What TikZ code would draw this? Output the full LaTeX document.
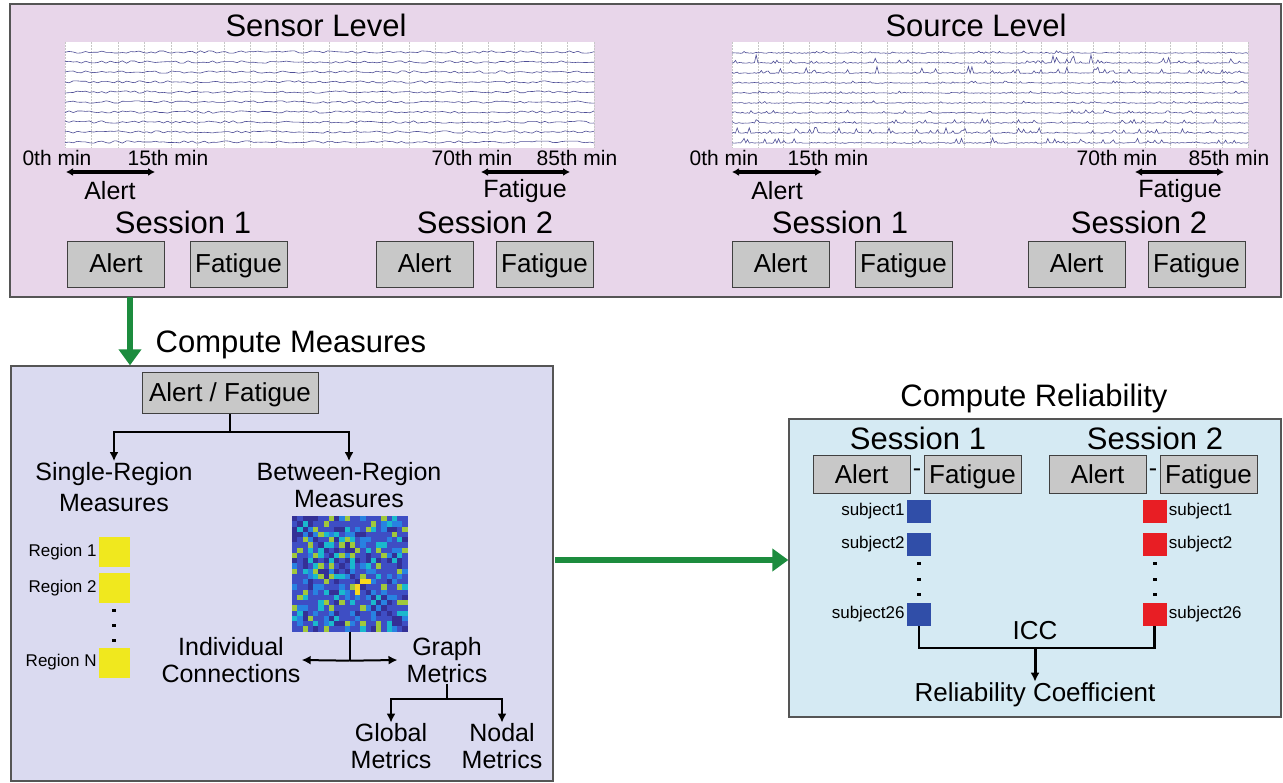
\documentclass[tikz,border=0pt]{standalone}
\usepackage{fontspec}
\setmainfont{Liberation Sans}
\usepackage{tikz}
\usetikzlibrary{positioning,arrows.meta}
\definecolor{topbg}{RGB}{232,214,234}
\definecolor{leftbg}{RGB}{218,218,240}
\definecolor{rightbg}{RGB}{213,234,243}
\definecolor{boxgray}{RGB}{200,200,200}
\definecolor{framegray}{RGB}{85,85,85}
\definecolor{flowgreen}{RGB}{28,140,62}
\definecolor{tracecol}{RGB}{78,78,150}
\definecolor{regyellow}{RGB}{240,232,30}
\definecolor{s1blue}{RGB}{48,78,168}
\definecolor{s2red}{RGB}{232,30,36}
\definecolor{pa}{RGB}{52,48,150}
\definecolor{pb}{RGB}{62,78,196}
\definecolor{pc}{RGB}{40,130,225}
\definecolor{pd}{RGB}{26,185,205}
\definecolor{pe}{RGB}{160,200,60}
\definecolor{pf}{RGB}{250,215,30}

\begin{document}
\begin{tikzpicture}[x=1pt, y=-1pt,
		panel/.style={draw=framegray, line width=1.3pt, inner sep=0pt},
		heading/.style={font=\fontsize{31}{34}\selectfont, inner sep=1pt},
		subhead/.style={font=\fontsize{25}{27}\selectfont, inner sep=1pt, align=center},
		minute/.style={font=\fontsize{21}{24}\selectfont, inner sep=1pt},
		cond/.style={draw=black!75, fill=boxgray, line width=1pt, minimum width=97pt,
		             minimum height=46pt, inner sep=0pt, text height=19pt, text depth=2pt,
		             font=\fontsize{26}{28}\selectfont},
		reglabel/.style={font=\fontsize{17}{20}\selectfont, inner sep=1pt},
		span/.style={line width=3.5pt, {Latex[length=7pt,width=8pt]}-{Latex[length=7pt,width=8pt]}},
		flow/.style={draw=flowgreen, line width=6pt, -{Triangle[length=16pt,width=22pt]}},
		branch/.style={line width=2pt, -{Latex[length=9pt,width=9pt]}},
		gridline/.style={draw=black!22, line width=0.4pt, dash pattern=on 2pt off 1pt},
		trace/.style={draw=tracecol, line width=0.6pt},
		hot/.style={fill=regyellow, minimum width=31pt, minimum height=30pt, inner sep=0pt},
		score/.style={minimum width=24pt, minimum height=23pt, inner sep=0pt}]
	\useasboundingbox (0,0) rectangle (1283,783);

	% recordings: sensor and source level
	\node[panel, fill=topbg, minimum width=1271pt, minimum height=293pt] (levels) at (645.5,150.5) {};
	\node[heading] (sensor) at (316,25) {Sensor Level};
	\node[heading] (source) at (976,25) {Source Level};

	\fill[white] (65,42) rectangle (594,148);
	\foreach \g in {0,...,20}
		\draw[gridline] ({65+26.45*\g},42) -- ({65+26.45*\g},148);
	\pgfmathsetseed{7}
	\foreach \k in {0,...,9}
		\draw[trace] plot[domain=65:594, samples=130, smooth] (\x,{52+10*\k+1.2*rand});

	\fill[white] (732,42) rectangle (1248,148);
	\foreach \g in {0,...,20}
		\draw[gridline] ({732+25.8*\g},42) -- ({732+25.8*\g},148);
	\foreach \k/\a in {0/2,1/8,2/7,3/2,4/2,5/2,6/3,7/4,8/6,9/5}
		\draw[trace] plot[domain=732:1248, samples=300] (\x,{53+10*\k-\a*rnd^12+0.4*rand});

	\foreach \nm/\t/\px in {a/0th min/57, b/15th min/168, c/70th min/472, d/85th min/577}
		\node[minute] (sen-\nm) at (\px,158) {\t};
	\foreach \nm/\t/\px in {a/0th min/724, b/15th min/828, c/70th min/1117, d/85th min/1229}
		\node[minute] (src-\nm) at (\px,158) {\t};
	\foreach \nm/\xa/\xb in {sa/66/155, sf/481/570, ra/732/822, rf/1135/1224} {
		\coordinate (\nm0) at (\xa,172);
		\coordinate (\nm1) at (\xb,172);
		\draw[span] (\nm0) -- (\nm1);
	}
	\foreach \nm/\t/\px in {sa/Alert/110, sf/Fatigue/525, ra/Alert/777, rf/Fatigue/1180}
		\node[subhead] (\nm-lab) at (\px,191) {\t};
	\foreach \nm/\t/\px in {s1/Session 1/183, s2/Session 2/485, r1/Session 1/840, r2/Session 2/1139}
		\node[heading] (\nm) at (\px,222) {\t};
	\foreach \nm/\t/\px in {s1a/Alert/116, s1f/Fatigue/238.5, s2a/Alert/424.5, s2f/Fatigue/544.5,
	                        r1a/Alert/780.5, r1f/Fatigue/903.5, r2a/Alert/1076.5, r2f/Fatigue/1196.5}
		\node[cond] (\nm) at (\px,264.5) {\t};

	% measures
	\node[panel, fill=leftbg, minimum width=542pt, minimum height=415pt] (measures) at (282,573.5) {};
	\node[heading] (meashead) at (291,345) {Compute Measures};
	\coordinate (drop) at (130,297);
	\draw[flow] (drop) -- (drop |- measures.north);

	\node[cond, minimum width=176pt, minimum height=41pt] (af) at (230,393.5) {Alert / Fatigue};
	\node[subhead, font=\fontsize{25}{31}\selectfont] (single) at (114,487) {Single-Region\\Measures};
	\node[subhead] (between) at (349,485) {Between-Region\\Measures};
	\draw[line width=2pt] (af.south) -- ++(0,18) coordinate (fork);
	\draw[branch] (fork) -| (single.north);
	\draw[branch] (fork) -| (between.north);

	\foreach \nm/\yy/\t in {1/552/Region 1, 2/588/Region 2, N/662.5/Region N} {
		\node[hot] (reg\nm) at (114.5,\yy) {};
		\node[reglabel, left=1pt of reg\nm] (regl\nm) {\t};
	}
	\foreach \yy in {610,625,640}
		\fill ({112},{\yy-1.5}) rectangle ++(4,3);

	% connectivity matrix
	\node[minimum width=115.5pt, minimum height=115.5pt, inner sep=0pt] (conn) at (349.75,573.75) {};
	\foreach \i in {0,...,21}
		\foreach \j in {0,...,21} {
			\pgfmathtruncatemacro\v{mod(abs(round(1000*sin(13.7*(\i+1)*(\j+1)+11.7*(\i+\j)))),100)}
			\pgfmathtruncatemacro\b{((\i>2)&&(\i<8)&&(\j>2)&&(\j<8))||((\i>8)&&(\i<17)&&(\j>8)&&(\j<17))}
			\pgfmathtruncatemacro\w{\v+14*\b}
			\ifnum\i=\j\relax \def\cc{pa}\else
			\ifnum\w<14 \def\cc{pa}\else
			\ifnum\w<72 \def\cc{pb}\else
			\ifnum\w<86 \def\cc{pc}\else
			\ifnum\w<94 \def\cc{pd}\else
			\ifnum\w<102 \def\cc{pe}\else \def\cc{pf}\fi\fi\fi\fi\fi\fi
			\fill[\cc] ({292+5.25*\j},{516+5.25*\i}) rectangle ++(5.35,5.35);
		}
	\draw[line width=2pt] (conn.south) -- ++(0,29) coordinate (split);
	\node[subhead] (indiv) at (231,660) {Individual\\Connections};
	\node[subhead] (graph) at (447,660) {Graph\\Metrics};
	\draw[branch] (split) -- (indiv.east);
	\draw[branch] (split) -- ([xshift=-8pt]graph.west);
	\draw[line width=2.5pt] (graph.south) -- ++(0,15) coordinate (gfork);
	\node[subhead] (global) at (391,746.5) {Global\\Metrics};
	\node[subhead] (nodal) at (502,746.5) {Nodal\\Metrics};
	\draw[branch] (gfork) -| (global.north);
	\draw[branch] (gfork) -| (nodal.north);

	% reliability
	\node[panel, fill=rightbg, minimum width=492pt, minimum height=298pt] (reliab) at (1035,568) {};
	\node[heading] (relhead) at (1034,398) {Compute Reliability};
	\coordinate (pass) at (555,560);
	\draw[flow] (pass) -- (pass -| reliab.west);

	\node[heading] (rs1) at (918,438) {Session 1};
	\node[heading] (rs2) at (1155,438) {Session 2};
	\foreach \nm/\t/\px in {ra1/Alert/861.5, rf1/Fatigue/972.5, ra2/Alert/1097.5, rf2/Fatigue/1208.5}
		\node[cond, minimum height=37pt] (\nm) at (\px,474.5) {\t};
	\node[subhead] (minus1) at (917,473) {-};
	\node[subhead] (minus2) at (1153,473) {-};

	\foreach \nm/\yy/\t in {1/511.5/subject1, 2/544.5/subject2, 26/614.5/subject26} {
		\node[score, fill=s1blue] (b\nm) at (919,\yy) {};
		\node[reglabel, left=1pt of b\nm] (bl\nm) {\t};
		\node[score, fill=s2red] (r\nm) at (1154.5,\yy) {};
		\node[reglabel, right=1pt of r\nm] (rl\nm) {\t};
	}
	\foreach \yy in {563,579,594} {
		\fill ({917},{\yy-1.5}) rectangle ++(4,3);
		\fill ({1152.5},{\yy-1.5}) rectangle ++(4,3);
	}
	\draw[line width=2.5pt] (b26.south) -- ++(0,22) coordinate (iccl) -- (iccl -| r26.south) -- (r26.south);
	\node[subhead, font=\fontsize{26}{28}\selectfont] (icc) at (1035,631) {ICC};
	\node[subhead, font=\fontsize{26}{28}\selectfont] (coef) at (1035,695) {Reliability Coefficient};
	\draw[branch, line width=3pt] (iccl -| coef.north) -- (coef.north);
\end{tikzpicture}
\end{document}
